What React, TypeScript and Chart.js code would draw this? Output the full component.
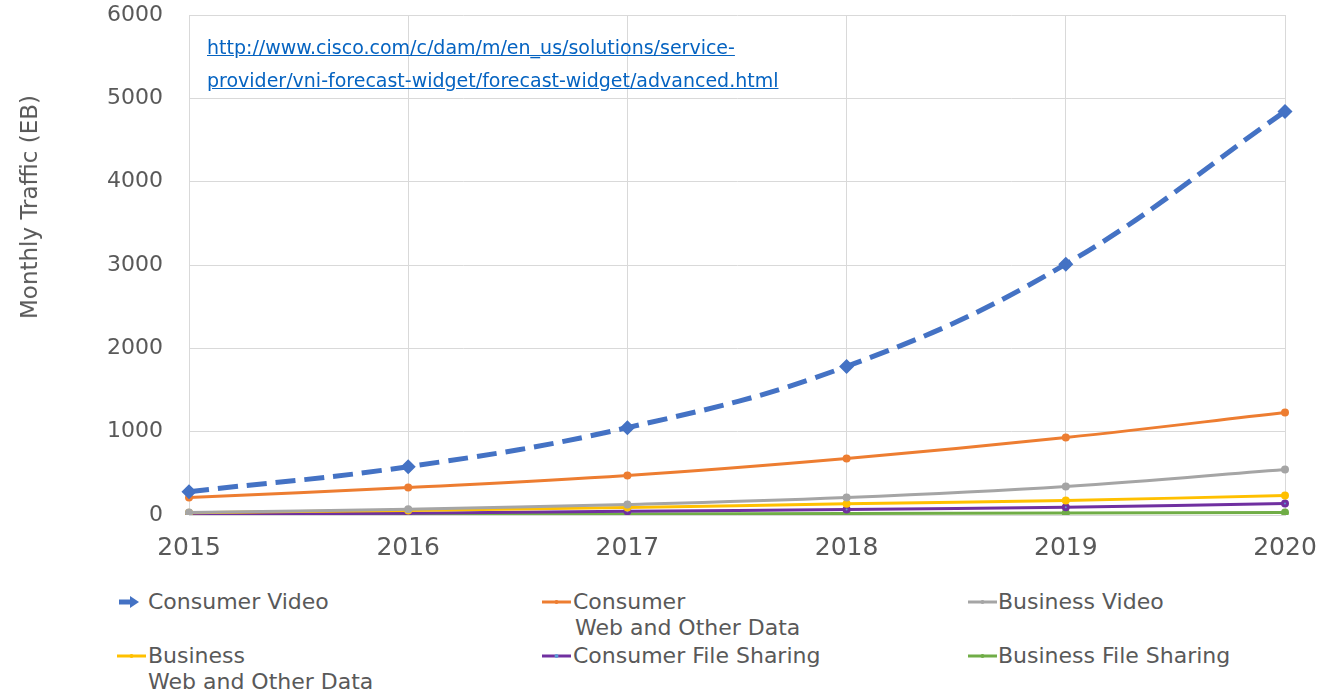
import React, { useEffect, useRef } from "react";
import { Chart, registerables } from "chart.js";

Chart.register(...registerables);

const years = ["2015", "2016", "2017", "2018", "2019", "2020"];
const yTicks = [0, 1000, 2000, 3000, 4000, 5000, 6000];

const consumerVideo = [280, 580, 1048, 1783, 3010, 4843];
const consumerWeb = [210, 330, 474, 678, 930, 1230];
const businessVideo = [30, 70, 126, 210, 342, 546];
const businessWeb = [28, 55, 90, 134, 174, 234];
const consumerFileSharing = [10, 22, 45, 66, 94, 138];
const businessFileSharing = [8, 10, 13, 18, 23, 30];

const seriesNames = [
  "Consumer Video",
  "Consumer Web and Other Data",
  "Business Video",
  "Business Web and Other Data",
  "Consumer File Sharing",
  "Business File Sharing",
];

const FONT = "'DejaVu Sans', sans-serif";
const TEXT = "#595959";

function LineMarker({ color, dot }: { color: string; dot: string }) {
  return (
    <svg width={29} height={10} style={{ display: "block" }}>
      <line x1={0} y1={5} x2={29} y2={5} stroke={color} strokeWidth={3} />
      <circle cx={14.5} cy={5} r={2} fill={dot} />
    </svg>
  );
}

function ArrowMarker() {
  return (
    <svg width={20} height={12} style={{ display: "block" }}>
      <line x1={0} y1={6} x2={12} y2={6} stroke="#4472C4" strokeWidth={5} />
      <polygon points="11,0 20,6 11,12" fill="#4472C4" />
    </svg>
  );
}

export default function App() {
  const canvasRef = useRef<HTMLCanvasElement | null>(null);

  useEffect(() => {
    const ctx = canvasRef.current;
    if (!ctx) return;
    const chart = new Chart(ctx, {
      type: "line",
      data: {
        labels: years,
        datasets: [
          {
            label: seriesNames[0],
            data: consumerVideo,
            borderColor: "#4472C4",
            backgroundColor: "#4472C4",
            borderWidth: 5,
            borderDash: [20, 9],
            pointStyle: "rectRot",
            pointRadius: 4,
            tension: 0.4,
          },
          {
            label: seriesNames[1],
            data: consumerWeb,
            borderColor: "#ED7D31",
            backgroundColor: "#ED7D31",
            borderWidth: 3,
            pointRadius: 2.5,
            tension: 0.4,
          },
          {
            label: seriesNames[2],
            data: businessVideo,
            borderColor: "#A5A5A5",
            backgroundColor: "#A5A5A5",
            borderWidth: 3,
            pointRadius: 2.5,
            tension: 0.4,
          },
          {
            label: seriesNames[3],
            data: businessWeb,
            borderColor: "#FFC000",
            backgroundColor: "#FFC000",
            borderWidth: 3,
            pointRadius: 2.5,
            tension: 0.4,
          },
          {
            label: seriesNames[4],
            data: consumerFileSharing,
            borderColor: "#7030A0",
            backgroundColor: "#5B9BD5",
            borderWidth: 3,
            pointRadius: 2.5,
            tension: 0.4,
          },
          {
            label: seriesNames[5],
            data: businessFileSharing,
            borderColor: "#70AD47",
            backgroundColor: "#70AD47",
            borderWidth: 3,
            pointRadius: 2.5,
            tension: 0.4,
          },
        ],
      },
      options: {
        animation: false,
        responsive: false,
        maintainAspectRatio: false,
        layout: { padding: { left: 0, right: 35, top: 15, bottom: 0 } },
        plugins: {
          legend: { display: false },
          tooltip: { enabled: false },
        },
        scales: {
          x: {
            type: "category",
            offset: false,
            grid: { color: "#D9D9D9", lineWidth: 1, drawTicks: false },
            border: { color: "#D9D9D9" },
            ticks: {
              color: TEXT,
              font: { family: FONT, size: 25 },
              padding: 18,
              maxRotation: 0,
            },
            afterFit: (scale: any) => {
              scale.height = 60;
              scale.paddingLeft = 0;
              scale.paddingRight = 0;
            },
          },
          y: {
            min: 0,
            max: 6000,
            grid: { color: "#D9D9D9", lineWidth: 1, drawTicks: false },
            border: { color: "#D9D9D9" },
            afterBuildTicks: (scale: any) => {
              scale.ticks = yTicks.map((v) => ({ value: v }));
            },
            ticks: {
              color: TEXT,
              font: { family: FONT, size: 22 },
              padding: 26,
              callback: (v: any) => String(v),
            },
            afterFit: (scale: any) => {
              scale.width = 189;
              scale.paddingTop = 0;
              scale.paddingBottom = 0;
            },
          },
        },
      },
    });
    return () => chart.destroy();
  }, []);

  const legendText: React.CSSProperties = {
    position: "absolute",
    fontFamily: FONT,
    fontSize: 22,
    color: TEXT,
    lineHeight: "26px",
    whiteSpace: "nowrap",
  };

  const markerAt = (x: number, y: number, node: React.ReactNode) => (
    <div style={{ position: "absolute", left: x, top: y, transform: "translateY(-50%)" }}>{node}</div>
  );

  const textAt = (x: number, y: number, s: string) => (
    <div style={{ ...legendText, left: x, top: y - 13 }}>{s}</div>
  );

  return (
    <div
      style={{
        position: "absolute",
        left: 0,
        top: 0,
        width: 1320,
        height: 696,
        background: "#ffffff",
        overflow: "hidden",
      }}
    >
      <div style={{ position: "absolute", left: 0, top: 0, width: 1320, height: 575 }}>
        <canvas ref={canvasRef} width={1320} height={575} style={{ display: "block" }} />
      </div>

      <div
        style={{
          position: "absolute",
          left: 29,
          top: 207,
          transform: "translate(-50%, -50%) rotate(-90deg)",
          fontFamily: FONT,
          fontSize: 23,
          color: TEXT,
          whiteSpace: "nowrap",
        }}
      >
        Monthly Traffic (EB)
      </div>

      <div
        style={{
          position: "absolute",
          left: 207,
          top: 31,
          fontFamily: FONT,
          fontSize: 19,
          lineHeight: "33px",
          color: "#0563C1",
          textDecoration: "underline",
          whiteSpace: "nowrap",
        }}
      >
        <div>http://www.cisco.com/c/dam/m/en_us/solutions/service-</div>
        <div>provider/vni-forecast-widget/forecast-widget/advanced.html</div>
      </div>

      {markerAt(119, 602, <ArrowMarker />)}
      {textAt(148, 602, "Consumer Video")}

      {markerAt(542, 602, <LineMarker color="#ED7D31" dot="#ED7D31" />)}
      {textAt(573, 602, "Consumer")}
      {textAt(575, 628, "Web and Other Data")}

      {markerAt(968, 602, <LineMarker color="#A5A5A5" dot="#A5A5A5" />)}
      {textAt(998, 602, "Business Video")}

      {markerAt(117, 656, <LineMarker color="#FFC000" dot="#FFC000" />)}
      {textAt(148, 656, "Business")}
      {textAt(148, 682, "Web and Other Data")}

      {markerAt(542, 656, <LineMarker color="#7030A0" dot="#5B9BD5" />)}
      {textAt(573, 656, "Consumer File Sharing")}

      {markerAt(968, 656, <LineMarker color="#70AD47" dot="#70AD47" />)}
      {textAt(998, 656, "Business File Sharing")}
    </div>
  );
}
